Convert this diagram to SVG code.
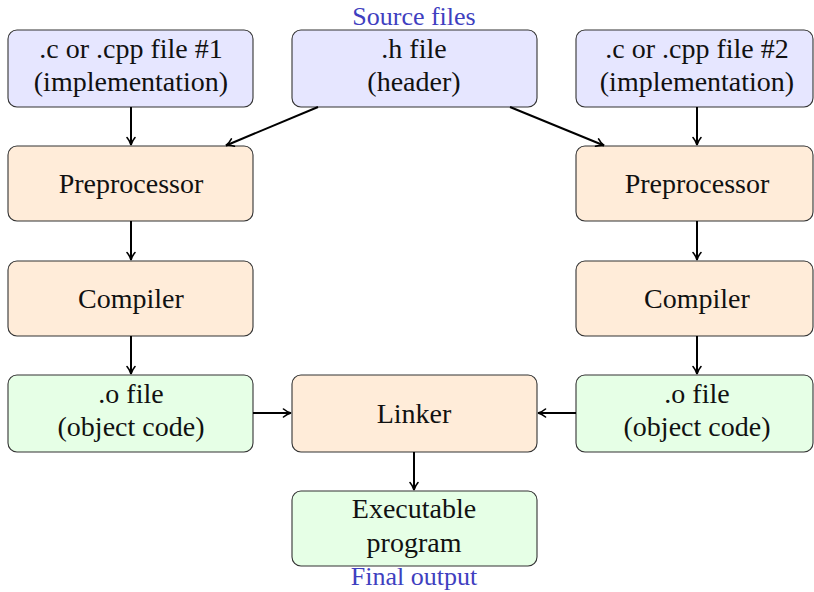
<svg xmlns="http://www.w3.org/2000/svg" width="814" height="592" viewBox="0 0 814 592">
<defs>
<marker id="ah" viewBox="0 0 10 10" refX="9" refY="5" markerWidth="10" markerHeight="10" markerUnits="userSpaceOnUse" orient="auto">
<path d="M1.5,1 Q5,4 9,5 Q5,6 1.5,9" fill="none" stroke="#000" stroke-width="1.6" stroke-linecap="round"/>
</marker>
</defs>
<style>
rect{stroke:#333;stroke-width:1.1;}
.src{fill:#e6e6ff;}
.proc{fill:#ffecd9;}
.out{fill:#e6ffe6;}
text{font-family:"Liberation Serif","DejaVu Serif",serif;font-size:28px;fill:#111;text-anchor:middle;}
.lbl{fill:#3f3fc0;font-size:26px;}
.conn line{stroke:#000;stroke-width:2;marker-end:url(#ah);}
</style>
<rect width="814" height="592" fill="#fff" style="stroke:none"/>
<text class="lbl" x="414" y="25">Source files</text>
<text class="lbl" x="414" y="585">Final output</text>
<g id="src1"><rect class="src" x="8" y="30" width="245" height="77" rx="9"/><text x="131" y="58">.c or .cpp file #1</text><text x="131" y="91">(implementation)</text></g>
<g id="hdr"><rect class="src" x="292" y="30" width="245" height="77" rx="9"/><text x="414" y="58">.h file</text><text x="414" y="91">(header)</text></g>
<g id="src2"><rect class="src" x="576" y="30" width="237" height="77" rx="9"/><text x="697" y="58">.c or .cpp file #2</text><text x="697" y="91">(implementation)</text></g>
<g id="pre1"><rect class="proc" x="8" y="146" width="245" height="75" rx="9"/><text x="131" y="193">Preprocessor</text></g>
<g id="pre2"><rect class="proc" x="576" y="146" width="237" height="75" rx="9"/><text x="697" y="193">Preprocessor</text></g>
<g id="comp1"><rect class="proc" x="8" y="261" width="245" height="75" rx="9"/><text x="131" y="308">Compiler</text></g>
<g id="comp2"><rect class="proc" x="576" y="261" width="237" height="75" rx="9"/><text x="697" y="308">Compiler</text></g>
<g id="obj1"><rect class="out" x="8" y="375" width="245" height="77" rx="9"/><text x="131" y="403">.o file</text><text x="131" y="436">(object code)</text></g>
<g id="obj2"><rect class="out" x="576" y="375" width="237" height="77" rx="9"/><text x="697" y="403">.o file</text><text x="697" y="436">(object code)</text></g>
<g id="linker"><rect class="proc" x="292" y="375" width="245" height="77" rx="9"/><text x="414" y="423">Linker</text></g>
<g id="exe"><rect class="out" x="292" y="491" width="245" height="75" rx="9"/><text x="414" y="518">Executable</text><text x="414" y="552">program</text></g>
<g class="conn">
<line x1="131" y1="107" x2="131" y2="145"/>
<line x1="697" y1="107" x2="697" y2="145"/>
<line x1="318" y1="107" x2="226" y2="145.5"/>
<line x1="510" y1="107" x2="604" y2="145.5"/>
<line x1="131" y1="221" x2="131" y2="260"/>
<line x1="697" y1="221" x2="697" y2="260"/>
<line x1="131" y1="336" x2="131" y2="374"/>
<line x1="697" y1="336" x2="697" y2="374"/>
<line x1="253" y1="413" x2="291" y2="413"/>
<line x1="576" y1="413" x2="538" y2="413"/>
<line x1="414" y1="452" x2="414" y2="490"/>
</g>
</svg>
